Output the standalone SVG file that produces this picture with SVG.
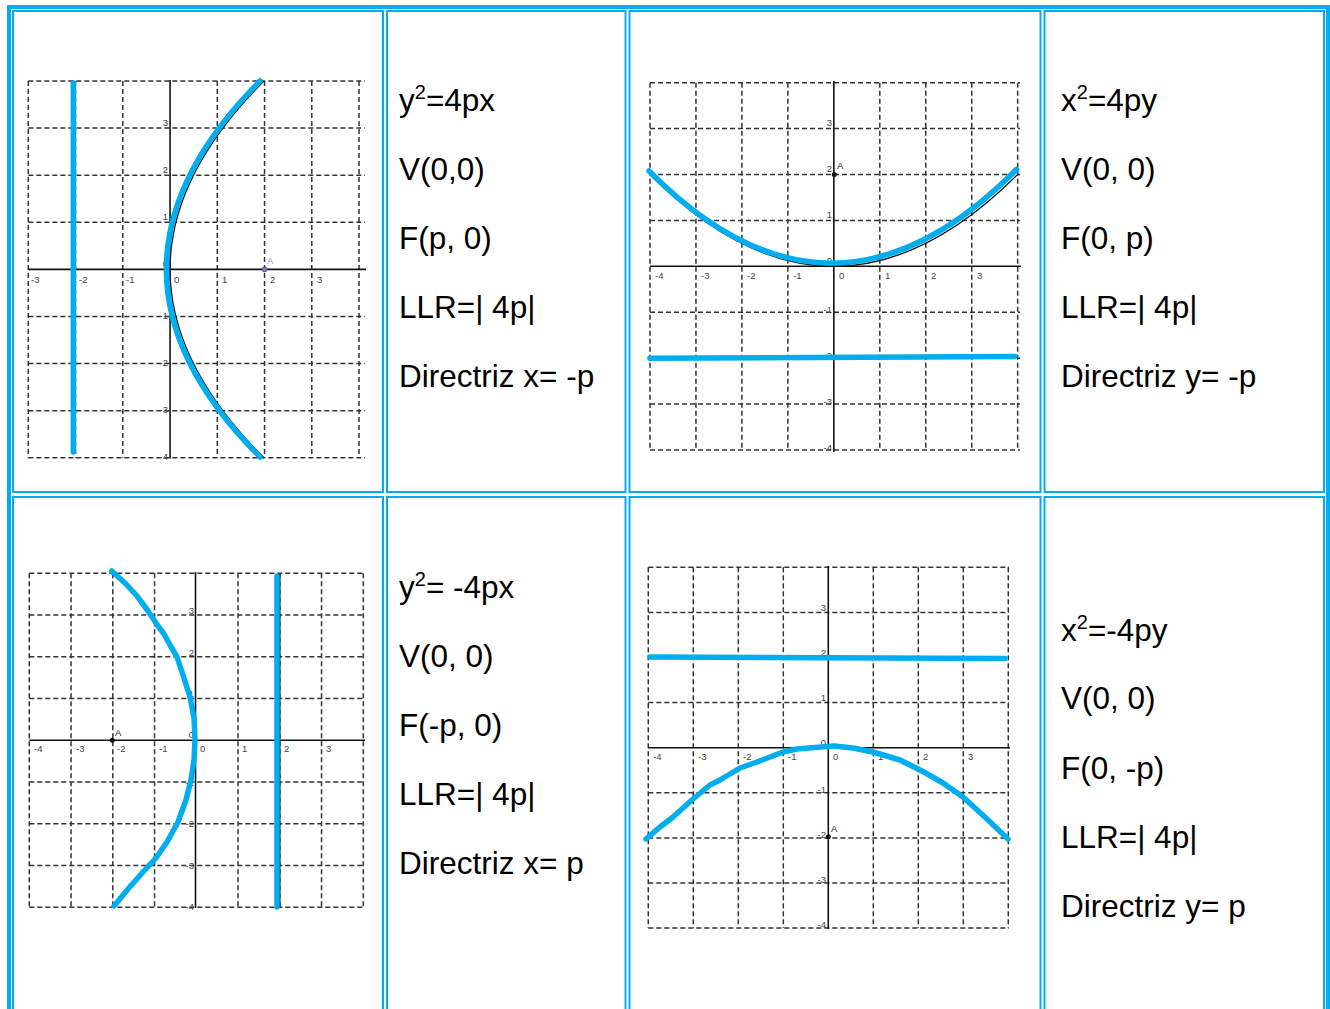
<svg xmlns="http://www.w3.org/2000/svg" width="1330" height="1009" viewBox="0 0 1330 1009">
<style>
.outer{fill:none;stroke:#00AEEF;stroke-width:4}
.cell{fill:none;stroke:#00AEEF;stroke-width:2}
.grid{fill:none;stroke:#333;stroke-width:1.5;stroke-dasharray:5 3}
.axis{fill:none;stroke:#111;stroke-width:1.6}
.cy{fill:none;stroke:#00AEEF;stroke-width:5.5;stroke-linecap:round;stroke-linejoin:round}
.blk{fill:none;stroke:#111;stroke-width:1.3}
.tk{font-family:"Liberation Sans",Arial,sans-serif;font-size:9.5px;fill:#444}
.tkr{font-family:"Liberation Sans",Arial,sans-serif;font-size:9.5px;fill:#444;text-anchor:end}
.t{font-family:"Liberation Sans",Arial,sans-serif;font-size:31.5px;fill:#000}
</style>
<rect width="1330" height="1009" fill="#fff"/>
<g id="table">
<rect class="outer" x="9" y="7" width="1319" height="1020"/>
<rect class="cell" x="13" y="11" width="370" height="481"/>
<rect class="cell" x="387" y="11" width="238.5" height="481"/>
<rect class="cell" x="629.5" y="11" width="411" height="481"/>
<rect class="cell" x="1044.5" y="11" width="279.5" height="481"/>
<rect class="cell" x="13" y="497" width="370" height="530"/>
<rect class="cell" x="387" y="497" width="238.5" height="530"/>
<rect class="cell" x="629.5" y="497" width="411" height="530"/>
<rect class="cell" x="1044.5" y="497" width="279.5" height="530"/>
</g>

<g id="graph1">
<path class="grid" d="M28.3,81V457.8M75.55,81V457.8M122.8,81V457.8M217.3,81V457.8M264.55,81V457.8M311.8,81V457.8M359.05,81V457.8M28.3,81H365M28.3,128.1H365M28.3,175.2H365M28.3,222.3H365M28.3,316.5H365M28.3,363.6H365M28.3,410.7H365M28.3,457.8H365"/>
<path class="axis" d="M28.3,269.4H366M170.05,80V458.5"/>
<g class="tk"><text x="31" y="283">-3</text><text x="79" y="283">-2</text><text x="126" y="283">-1</text><text x="174" y="283">0</text><text x="222" y="283">1</text><text x="270" y="283">2</text><text x="317" y="283">3</text></g>
<g class="tkr"><text x="168" y="126">3</text><text x="168" y="173">2</text><text x="168" y="220">1</text><text x="168" y="267">0</text><text x="168" y="319">-1</text><text x="168" y="366">-2</text><text x="168" y="413">-3</text><text x="168" y="460">-4</text></g>
<path class="blk" d="M263.9,81Q76.1,269.4 263.9,457.8"/>
<path class="cy" d="M260,81Q73,269.4 260,457"/>
<path class="cy" d="M73.3,83V452"/>
<circle cx="264.55" cy="269.4" r="2.5" fill="#7b7bd6" stroke="#333" stroke-width="0.6"/>
<text x="267" y="264" style="font-family:'Liberation Sans',Arial,sans-serif;font-size:9.5px;fill:#9a9ae6">A</text>
</g>

<g id="text1">
<text class="t" x="399" y="111">y<tspan font-size="20" dy="-12">2</tspan><tspan dy="12">=4px</tspan></text>
<text class="t" x="399" y="180">V(0,0)</text>
<text class="t" x="399" y="249">F(p, 0)</text>
<text class="t" x="399" y="318">LLR=| 4p|</text>
<text class="t" x="399" y="387">Directriz x= -p</text>
</g>

<g id="graph2">
<path class="grid" d="M650,82.7V450M695.96,82.7V450M741.92,82.7V450M787.88,82.7V450M879.8,82.7V450M925.76,82.7V450M971.72,82.7V450M1017.68,82.7V450M650,82.7H1020M650,128.6H1020M650,174.5H1020M650,220.4H1020M650,312.3H1020M650,358.2H1020M650,404.1H1020M650,450H1020"/>
<path class="axis" d="M650,266.3H1021M833.84,81V452"/>
<g class="tk"><text x="655" y="279">-4</text><text x="701" y="279">-3</text><text x="747" y="279">-2</text><text x="793" y="279">-1</text><text x="839" y="279">0</text><text x="885" y="279">1</text><text x="931" y="279">2</text><text x="977" y="279">3</text></g>
<g class="tkr"><text x="832" y="126">3</text><text x="832" y="172">2</text><text x="832" y="218">1</text><text x="832" y="264">0</text><text x="832" y="313">-1</text><text x="832" y="359">-2</text><text x="832" y="405">-3</text><text x="832" y="451">-4</text></g>
<path class="blk" d="M650,174.5Q833.84,358.2 1017.68,174.5"/>
<path class="cy" d="M649,171Q832,356 1016.5,169.5"/>
<path class="cy" d="M650,358.2L1015,356.5"/>
<circle cx="834.3" cy="174.5" r="2.5" fill="#111"/>
<text x="837" y="169" style="font-family:'Liberation Sans',Arial,sans-serif;font-size:9.5px;fill:#222">A</text>
</g>

<g id="text2">
<text class="t" x="1061" y="111">x<tspan font-size="20" dy="-12">2</tspan><tspan dy="12">=4py</tspan></text>
<text class="t" x="1061" y="180">V(0, 0)</text>
<text class="t" x="1061" y="249">F(0, p)</text>
<text class="t" x="1061" y="318">LLR=| 4p|</text>
<text class="t" x="1061" y="387">Directriz y= -p</text>
</g>

<g id="graph3">
<path class="grid" d="M29.3,573.3V907.3M71.05,573.3V907.3M112.8,573.3V907.3M154.55,573.3V907.3M238.05,573.3V907.3M279.8,573.3V907.3M321.55,573.3V907.3M363.3,573.3V907.3M29.3,573.3H364M29.3,615.05H364M29.3,656.8H364M29.3,698.55H364M29.3,782.05H364M29.3,823.8H364M29.3,865.55H364M29.3,907.3H364"/>
<path class="axis" d="M29.3,740.3H365M195.5,572V908"/>
<g class="tk"><text x="34" y="752">-4</text><text x="76" y="752">-3</text><text x="117" y="752">-2</text><text x="159" y="752">-1</text><text x="200" y="752">0</text><text x="242" y="752">1</text><text x="284" y="752">2</text><text x="326" y="752">3</text></g>
<g class="tkr"><text x="194" y="614">3</text><text x="194" y="656">2</text><text x="194" y="697">1</text><text x="194" y="738">0</text><text x="194" y="786">-1</text><text x="194" y="827">-2</text><text x="194" y="869">-3</text><text x="194" y="910">-4</text></g>
<path class="blk" d="M279.8,574V907"/>
<path class="cy" d="M111.7,571L125,583L137,596L148,611L158,626L164,634L170,645L177,657L183,675L190,697L194,718L195,740L194,760L191,780L186,800L178,822L167,842L156,858L143,872L128,889L114,906"/>
<path class="cy" d="M277,576V907"/>
<circle cx="112.3" cy="740.3" r="2.5" fill="#111"/>
<text x="115" y="736" style="font-family:'Liberation Sans',Arial,sans-serif;font-size:9.5px;fill:#222">A</text>
</g>

<g id="text3">
<text class="t" x="399" y="598">y<tspan font-size="20" dy="-12">2</tspan><tspan dy="12">= -4px</tspan></text>
<text class="t" x="399" y="667">V(0, 0)</text>
<text class="t" x="399" y="736">F(-p, 0)</text>
<text class="t" x="399" y="805">LLR=| 4p|</text>
<text class="t" x="399" y="874">Directriz x= p</text>
</g>

<g id="graph4">
<path class="grid" d="M648.3,567.3V928.1M693.3,567.3V928.1M738.3,567.3V928.1M783.3,567.3V928.1M873.3,567.3V928.1M918.3,567.3V928.1M963.3,567.3V928.1M1008.3,567.3V928.1M648.3,567.3H1009M648.3,612.4H1009M648.3,657.5H1009M648.3,702.6H1009M648.3,792.8H1009M648.3,837.9H1009M648.3,883H1009M648.3,928.1H1009"/>
<path class="axis" d="M648.3,747.7H1010M828.3,566V929"/>
<g class="tk"><text x="653" y="760">-4</text><text x="698" y="760">-3</text><text x="743" y="760">-2</text><text x="788" y="760">-1</text><text x="833" y="760">0</text><text x="878" y="760">1</text><text x="923" y="760">2</text><text x="968" y="760">3</text></g>
<g class="tkr"><text x="826" y="611">3</text><text x="826" y="656">2</text><text x="826" y="701">1</text><text x="826" y="746">0</text><text x="826" y="793">-1</text><text x="826" y="838">-2</text><text x="826" y="883">-3</text><text x="826" y="928">-4</text></g>
<path class="cy" d="M646,839L660,827L673,817L693,799L710,785L720,780L740,768L757,762L783,752L797,749L827,746.5L834,746L853,748L873,752L900,760L923,771.5L943,783L963,797L987,819L1008,839"/>
<path class="cy" d="M650,657L1005,658.5"/>
<circle cx="828.3" cy="836.7" r="2.5" fill="#111"/>
<text x="831" y="832" style="font-family:'Liberation Sans',Arial,sans-serif;font-size:9.5px;fill:#222">A</text>
</g>

<g id="text4">
<text class="t" x="1061" y="641">x<tspan font-size="20" dy="-12">2</tspan><tspan dy="12">=-4py</tspan></text>
<text class="t" x="1061" y="709">V(0, 0)</text>
<text class="t" x="1061" y="779">F(0, -p)</text>
<text class="t" x="1061" y="848">LLR=| 4p|</text>
<text class="t" x="1061" y="917">Directriz y= p</text>
</g>
</svg>
